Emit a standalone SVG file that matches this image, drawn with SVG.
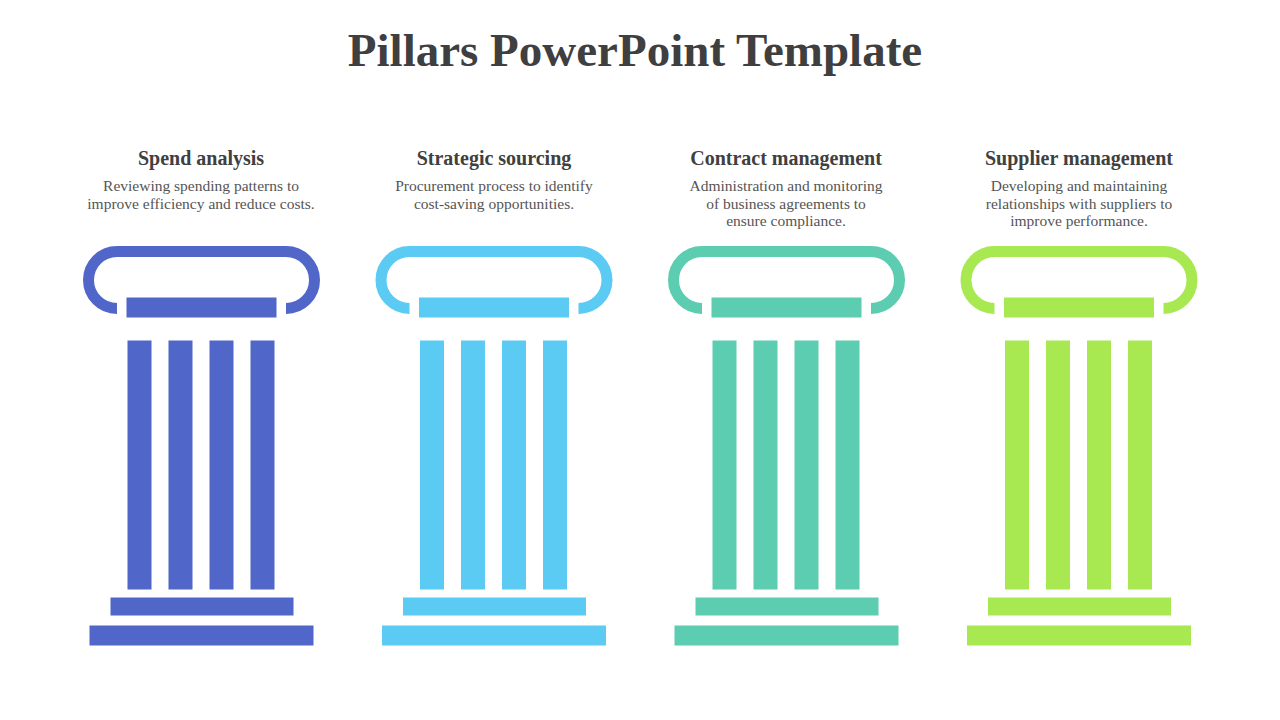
<svg xmlns="http://www.w3.org/2000/svg" width="1280" height="720" viewBox="0 0 1280 720">
<style>
.t{font-family:"Liberation Serif",serif;font-weight:bold;font-size:47px;fill:#3f3f3f}
.h{font-family:"Liberation Serif",serif;font-weight:bold;font-size:20px;fill:#404040}
.d{font-family:"Liberation Serif",serif;font-size:15.5px;fill:#555}
.cap{fill:none;stroke-width:11}
</style>
<defs>
<g id="pillar">
<path class="cap" d="M117,308.5 A28.5,28.5 0 0 1 117,251.5 H286 A28.5,28.5 0 0 1 286,308.5" stroke="inherit"/>
<rect x="127" y="298" width="149" height="19"/>
<rect x="128" y="341" width="23" height="248"/>
<rect x="169" y="341" width="23" height="248"/>
<rect x="210" y="341" width="23" height="248"/>
<rect x="251" y="341" width="23" height="248"/>
<rect x="111" y="598" width="182" height="17"/>
<rect x="90" y="626" width="223" height="19"/>
</g>
</defs>
<rect width="1280" height="720" fill="#fff"/>
<text class="t" x="635" y="66" text-anchor="middle">Pillars PowerPoint Template</text>
<g id="node1"><use href="#pillar" fill="#5067C9" stroke="#5067C9"/>
<text class="h" x="201" y="165" text-anchor="middle">Spend analysis</text>
<text class="d" text-anchor="middle"><tspan x="201" y="191">Reviewing spending patterns to</tspan><tspan x="201" y="209">improve efficiency and reduce costs.</tspan></text></g>
<g id="node2"><use href="#pillar" x="292.5" fill="#5BCBF3" stroke="#5BCBF3"/>
<text class="h" x="494" y="165" text-anchor="middle">Strategic sourcing</text>
<text class="d" text-anchor="middle"><tspan x="494" y="191">Procurement process to identify</tspan><tspan x="494" y="209">cost-saving opportunities.</tspan></text></g>
<g id="node3"><use href="#pillar" x="585" fill="#5CCDB0" stroke="#5CCDB0"/>
<text class="h" x="786" y="165" text-anchor="middle">Contract management</text>
<text class="d" text-anchor="middle"><tspan x="786" y="191">Administration and monitoring</tspan><tspan x="786" y="209">of business agreements to</tspan><tspan x="786" y="226">ensure compliance.</tspan></text></g>
<g id="node4"><use href="#pillar" x="877.5" fill="#A8E952" stroke="#A8E952"/>
<text class="h" x="1079" y="165" text-anchor="middle">Supplier management</text>
<text class="d" text-anchor="middle"><tspan x="1079" y="191">Developing and maintaining</tspan><tspan x="1079" y="209">relationships with suppliers to</tspan><tspan x="1079" y="226">improve performance.</tspan></text></g>
<g id="connectors"/>
</svg>
